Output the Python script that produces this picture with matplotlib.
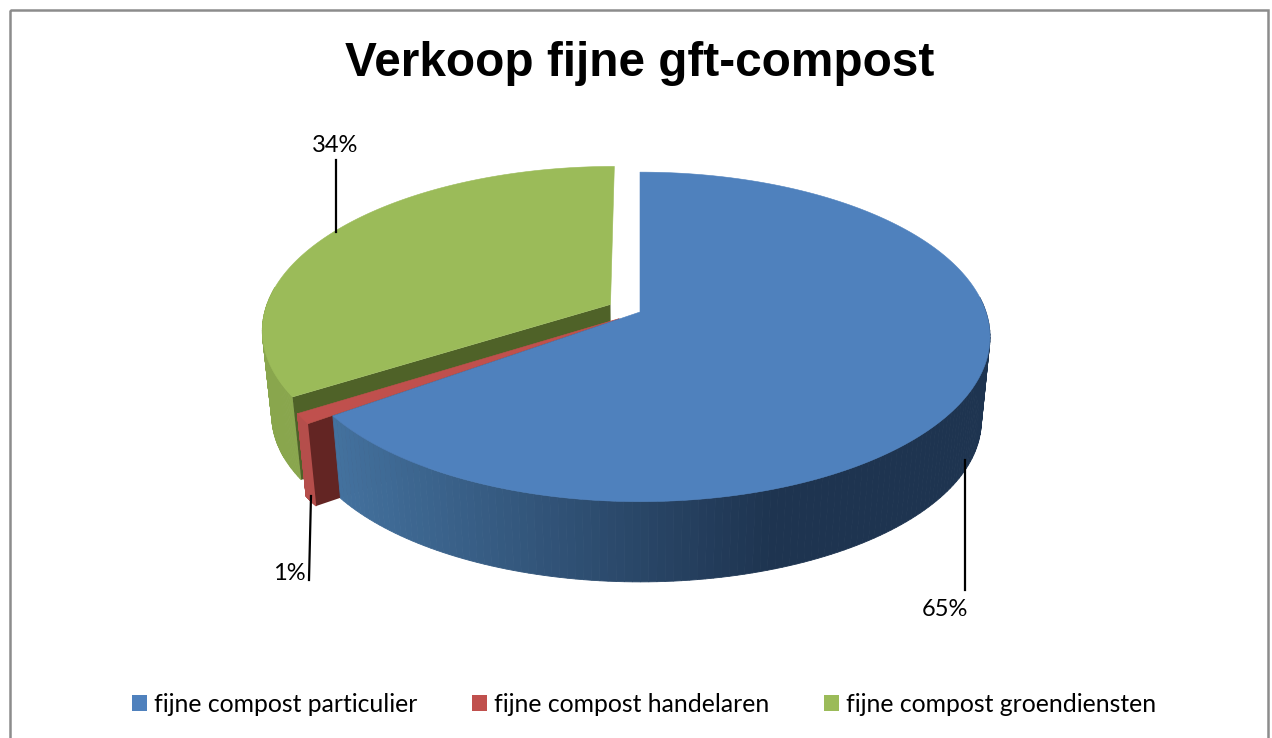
import numpy as np
import matplotlib
matplotlib.use('Agg')
import matplotlib.pyplot as plt
from matplotlib.patches import Patch, Rectangle
from matplotlib.colors import to_rgb

title = 'Verkoop fijne gft-compost'
categories = ['fijne compost particulier', 'fijne compost handelaren', 'fijne compost groendiensten']
values = [65, 1, 34]
labels = ['65%', '1%', '34%']
colors = ['#4f81bd', '#c0504d', '#9bbb59']
cut_colors = ['#3f6c9f', '#632523', '#4f6228']

# perspective of the pie, in pixels
apex_x, apex_y = 640, 312
scale_x, scale_y, persp = 346, 161, 0.151
depth, bottom_scale = 85, 0.975
explode = [0, 0.072, 0.098]


def project(x, y, low=False):
    d = 1 + persp * y
    u = scale_x * x / d
    v = scale_y * y / d
    if low:
        return apex_x + u * bottom_scale, apex_y - v * bottom_scale + depth
    return apex_x + u, apex_y - v


def arc(a0, a1, off, n=200):
    t = np.radians(np.linspace(a0, a1, n))
    return np.sin(t) + off[0], np.cos(t) + off[1]


def side_color(px, i):
    # side of the blue slice gets darker towards the right
    if i == 0:
        f = np.clip((px - 330) / (775 - 330), 0, 1)
        a, b = np.array(to_rgb('#44729f')), np.array(to_rgb('#1e3450'))
        return a + (b - a) * f
    if i == 1:
        return to_rgb('#b54e4b')
    return to_rgb('#89a64d')


fig = plt.figure(figsize=(12.72, 7.38), dpi=100)
ax = fig.add_axes([0, 0, 1, 1])
ax.set_xlim(0, 1272)
ax.set_ylim(738, 0)
ax.axis('off')

ax.add_patch(Rectangle((10, 10), 1258, 760, fill=False, edgecolor='#8c8c8c', linewidth=1.8))

angles = np.concatenate([[0], np.cumsum(values)]) * 3.6
offsets = []
for i in range(3):
    mid = np.radians((angles[i] + angles[i + 1]) / 2)
    offsets.append((np.sin(mid) * explode[i], np.cos(mid) * explode[i]))

# draw back to front: green, red, blue
for i in [2, 1, 0]:
    off = offsets[i]
    x, y = arc(angles[i], angles[i + 1], off)
    ux, uy = project(x, y)
    lx, ly = project(x, y, low=True)

    # outer wall, only the part facing the viewer
    for j in range(len(x) - 1):
        if y[j] - off[1] > 0.1:
            continue
        c = side_color(ux[j], i)
        ax.fill([ux[j], ux[j + 1], lx[j + 1], lx[j]], [uy[j], uy[j + 1], ly[j + 1], ly[j]],
                color=c, linewidth=0.6)

    ax0, ay0 = project(off[0], off[1])
    bx0, by0 = project(off[0], off[1], low=True)

    # cut wall at the start of the slice
    if i > 0:
        ax.fill([ax0, ux[0], lx[0], bx0], [ay0, uy[0], ly[0], by0], color=cut_colors[i], linewidth=0)

    # top face
    ax.fill(np.r_[ax0, ux], np.r_[ay0, uy], color=colors[i], linewidth=0.4)

# leader lines
ax.plot([336, 336], [160, 232], color='black', linewidth=1.6)
ax.plot([309, 311], [580, 496], color='black', linewidth=1.6)
ax.plot([965, 965], [590, 460], color='black', linewidth=1.6)

label_font = 'Lato'
ax.text(945, 610, labels[0], ha='center', va='center', fontsize=17, family=label_font, color='black')
ax.text(289, 574, labels[1], ha='center', va='center', fontsize=17, family=label_font, color='black')
ax.text(335, 146, labels[2], ha='center', va='center', fontsize=17, family=label_font, color='black')

ax.text(640, 64, title, ha='center', va='center', fontsize=34.4, fontweight='bold',
        family='Liberation Sans', color='black')

handles = [Patch(facecolor=c, edgecolor='none') for c in colors]
ax.legend(handles, categories, loc='center', bbox_to_anchor=(644, 704), bbox_transform=ax.transData,
          ncol=3, frameon=False, handlelength=0.6, handleheight=0.6, handletextpad=0.28,
          columnspacing=2.2, prop={'family': label_font, 'size': 17.85})

fig.savefig('out.png', dpi=100)
